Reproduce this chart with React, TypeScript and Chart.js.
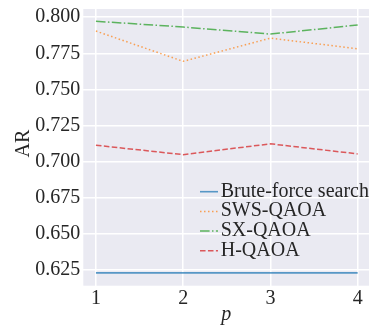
import React, { useEffect, useRef } from 'react';
import { Chart, registerables } from 'chart.js';

Chart.register(...registerables);

const pValues = [1, 2, 3, 4];
const bruteForce = [0.6227, 0.6227, 0.6227, 0.6227];
const swsQaoa = [0.7904, 0.7694, 0.7855, 0.7781];
const sxQaoa = [0.7972, 0.7932, 0.7883, 0.7946];
const hQaoa = [0.7112, 0.7047, 0.7122, 0.7052];
const yTicks = [0.625, 0.65, 0.675, 0.7, 0.725, 0.75, 0.775, 0.8];
const seriesLabels = ['Brute-force search', 'SWS-QAOA', 'SX-QAOA', 'H-QAOA'];
const yAxisLabel = 'AR';
const xAxisLabel = 'p';

const FONT = "'Liberation Serif', 'DejaVu Serif', serif";
const TEXT = '#262626';

const bgPlugin = {
  id: 'plotBg',
  beforeDraw(chart: any) {
    const { ctx, chartArea } = chart;
    ctx.save();
    ctx.fillStyle = '#EAEAF2';
    ctx.fillRect(chartArea.left, chartArea.top, chartArea.right - chartArea.left, chartArea.bottom - chartArea.top);
    ctx.restore();
  },
};

const legendPlugin = {
  id: 'inlineLegend',
  afterDraw(chart: any) {
    const { ctx } = chart;
    ctx.save();
    ctx.font = `20px ${FONT}`;
    chart.data.datasets.forEach((ds: any, i: number) => {
      const y = 191.7 + i * 19.7;
      ctx.strokeStyle = ds.borderColor;
      ctx.lineWidth = ds.borderWidth;
      ctx.setLineDash(ds.borderDash || []);
      ctx.beginPath();
      ctx.moveTo(200, y);
      ctx.lineTo(218, y);
      ctx.stroke();
      ctx.setLineDash([]);
      ctx.fillStyle = TEXT;
      ctx.textBaseline = 'alphabetic';
      ctx.textAlign = 'left';
      ctx.fillText(ds.label, 220.7, y + 5);
    });
    // y-axis title
    ctx.translate(23.5, 143.5);
    ctx.rotate(-Math.PI / 2);
    ctx.textAlign = 'center';
    ctx.textBaseline = 'middle';
    ctx.fillStyle = TEXT;
    ctx.fillText(yAxisLabel, 0, 0);
    ctx.restore();
  },
};

export default function App() {
  const ref = useRef<HTMLCanvasElement>(null);
  useEffect(() => {
    document.body.style.margin = '0';
    const toPts = (arr: number[]) => pValues.map((p, i) => ({ x: p, y: arr[i] }));
    const chart = new Chart(ref.current!, {
      type: 'line',
      data: {
        datasets: [
          { label: seriesLabels[0], data: toPts(bruteForce), borderColor: 'rgba(31,119,180,0.72)', borderWidth: 1.6, pointRadius: 0, borderDash: [] },
          { label: seriesLabels[1], data: toPts(swsQaoa), borderColor: 'rgba(255,127,14,0.7)', borderWidth: 1.5, pointRadius: 0, borderDash: [1.5, 2.5] },
          { label: seriesLabels[2], data: toPts(sxQaoa), borderColor: 'rgba(44,160,44,0.75)', borderWidth: 1.5, pointRadius: 0, borderDash: [9.6, 2.4, 1.5, 2.4] },
          { label: seriesLabels[3], data: toPts(hQaoa), borderColor: 'rgba(214,39,40,0.75)', borderWidth: 1.5, pointRadius: 0, borderDash: [5.55, 2.4] },
        ],
      },
      options: {
        animation: false,
        responsive: false,
        devicePixelRatio: 1,
        layout: { padding: { top: 9, right: 0, left: 0, bottom: 0 } },
        plugins: { legend: { display: false }, tooltip: { enabled: false } },
        elements: { line: { tension: 0, borderCapStyle: 'butt' } },
        scales: {
          x: {
            type: 'linear',
            min: 0.855,
            max: 4.13,
            afterFit: (s: any) => { s.height = 41.3; s.paddingLeft = 0; s.paddingRight = 0; },
            afterBuildTicks: (s: any) => { s.ticks = pValues.map((v) => ({ value: v })); },
            grid: { color: '#ffffff', lineWidth: 1.5, drawTicks: false },
            border: { display: false },
            ticks: { color: TEXT, font: { family: FONT, size: 20 }, padding: 1, autoSkip: false, maxRotation: 0, callback: (v: any) => String(v) },
            title: { display: true, text: xAxisLabel, color: TEXT, font: { family: FONT, size: 20, style: 'italic' }, padding: { top: 0, bottom: 0 } },
          },
          y: {
            type: 'linear',
            min: 0.6138,
            max: 0.8057,
            afterFit: (s: any) => { s.width = 83.3; s.paddingTop = 0; s.paddingBottom = 0; },
            afterBuildTicks: (s: any) => { s.ticks = yTicks.map((v) => ({ value: v })); },
            grid: { color: '#ffffff', lineWidth: 1.5, drawTicks: false },
            border: { display: false },
            ticks: { color: TEXT, font: { family: FONT, size: 20 }, padding: 3, autoSkip: false, callback: (v: any) => Number(v).toFixed(3) },
            title: { display: false },
          },
        },
      },
      plugins: [bgPlugin, legendPlugin],
    } as any);
    return () => chart.destroy();
  }, []);
  return (
    <div style={{ width: 369, height: 327 }}>
      <canvas ref={ref} width={369} height={327} style={{ display: 'block' }} />
    </div>
  );
}
